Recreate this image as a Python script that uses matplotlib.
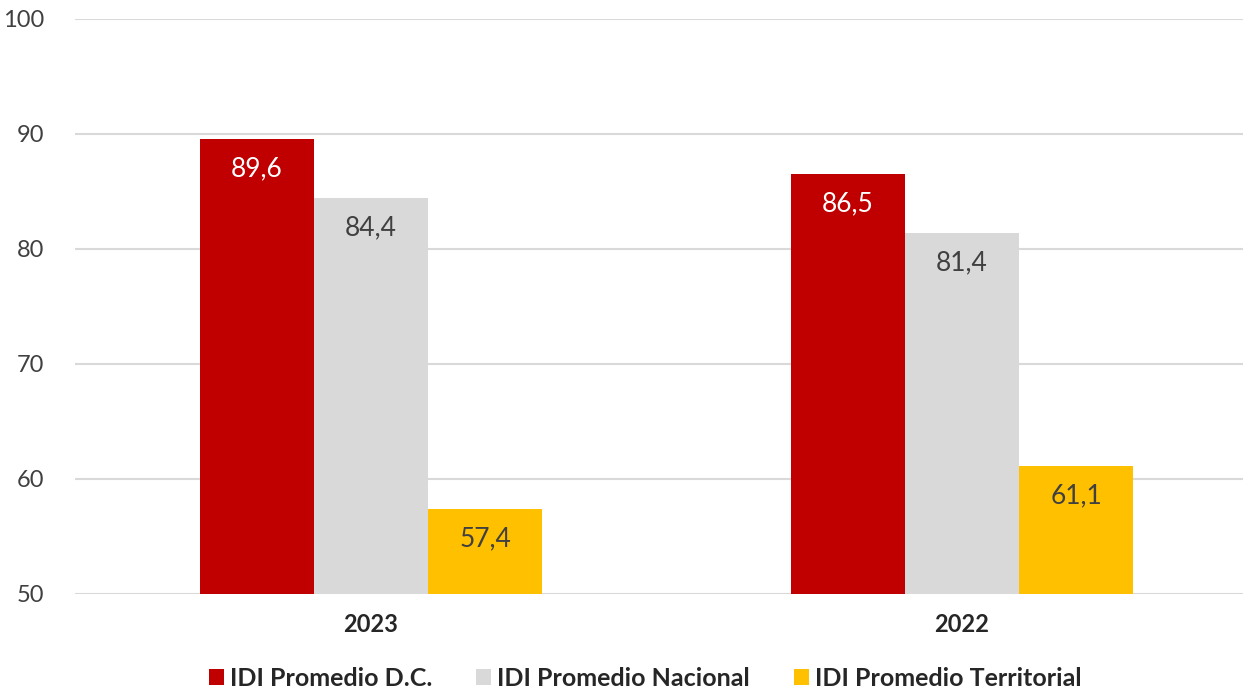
import matplotlib
matplotlib.use("Agg")
import matplotlib.pyplot as plt
import numpy as np

plt.rcParams['font.family'] = ['Lato', 'DejaVu Sans']

# Data
years = ['2023', '2022']
series = ['IDI Promedio D.C.', 'IDI Promedio Nacional', 'IDI Promedio Territorial']
idi_dc = [89.6, 86.5]
idi_nacional = [84.4, 81.4]
idi_territorial = [57.4, 61.1]

colors = ['#C00000', '#D9D9D9', '#FFC000']
label_colors = ['white', '#404040', '#404040']

fig = plt.figure(figsize=(12.43, 6.89), dpi=100)
ax = fig.add_axes([75 / 1243, 1 - 594 / 689, 1168 / 1243, 575 / 689])

x = np.arange(len(years))
width = 0.193
values = [idi_dc, idi_nacional, idi_territorial]

for i, (vals, name) in enumerate(zip(values, series)):
    pos = x + (i - 1) * width
    bars = ax.bar(pos, np.array(vals) - 50, width, bottom=50, color=colors[i],
                  label=name, zorder=3)
    for b, v in zip(bars, vals):
        ax.text(b.get_x() + b.get_width() / 2, v - 2.6, f'{v:.1f}'.replace('.', ','),
                ha='center', va='center', fontsize=19, color=label_colors[i], zorder=4)

ax.set_ylim(50, 100)
ax.set_xlim((75 - 371) / 591, (1243 - 371) / 591)
ax.set_yticks(range(50, 101, 10))
ax.set_xticks(x)
ax.set_xticklabels(years, fontsize=17, fontweight='bold', color='#262626')
ax.tick_params(axis='y', labelsize=17, labelcolor='#404040', length=0, pad=22)
ax.tick_params(axis='x', length=0, pad=14)
ax.grid(axis='y', color='#D9D9D9', linewidth=1.5, zorder=0)
for s in ax.spines.values():
    s.set_visible(False)

leg = fig.legend(loc='center', bbox_to_anchor=(0.519, 1 - 678 / 689), ncol=3, frameon=False,
                 prop={'size': 18, 'weight': 'bold'}, handlelength=0.6, handleheight=0.6,
                 handletextpad=0.25, columnspacing=1.75)
for t in leg.get_texts():
    t.set_color('#262626')

fig.savefig('out.png', dpi=100)
